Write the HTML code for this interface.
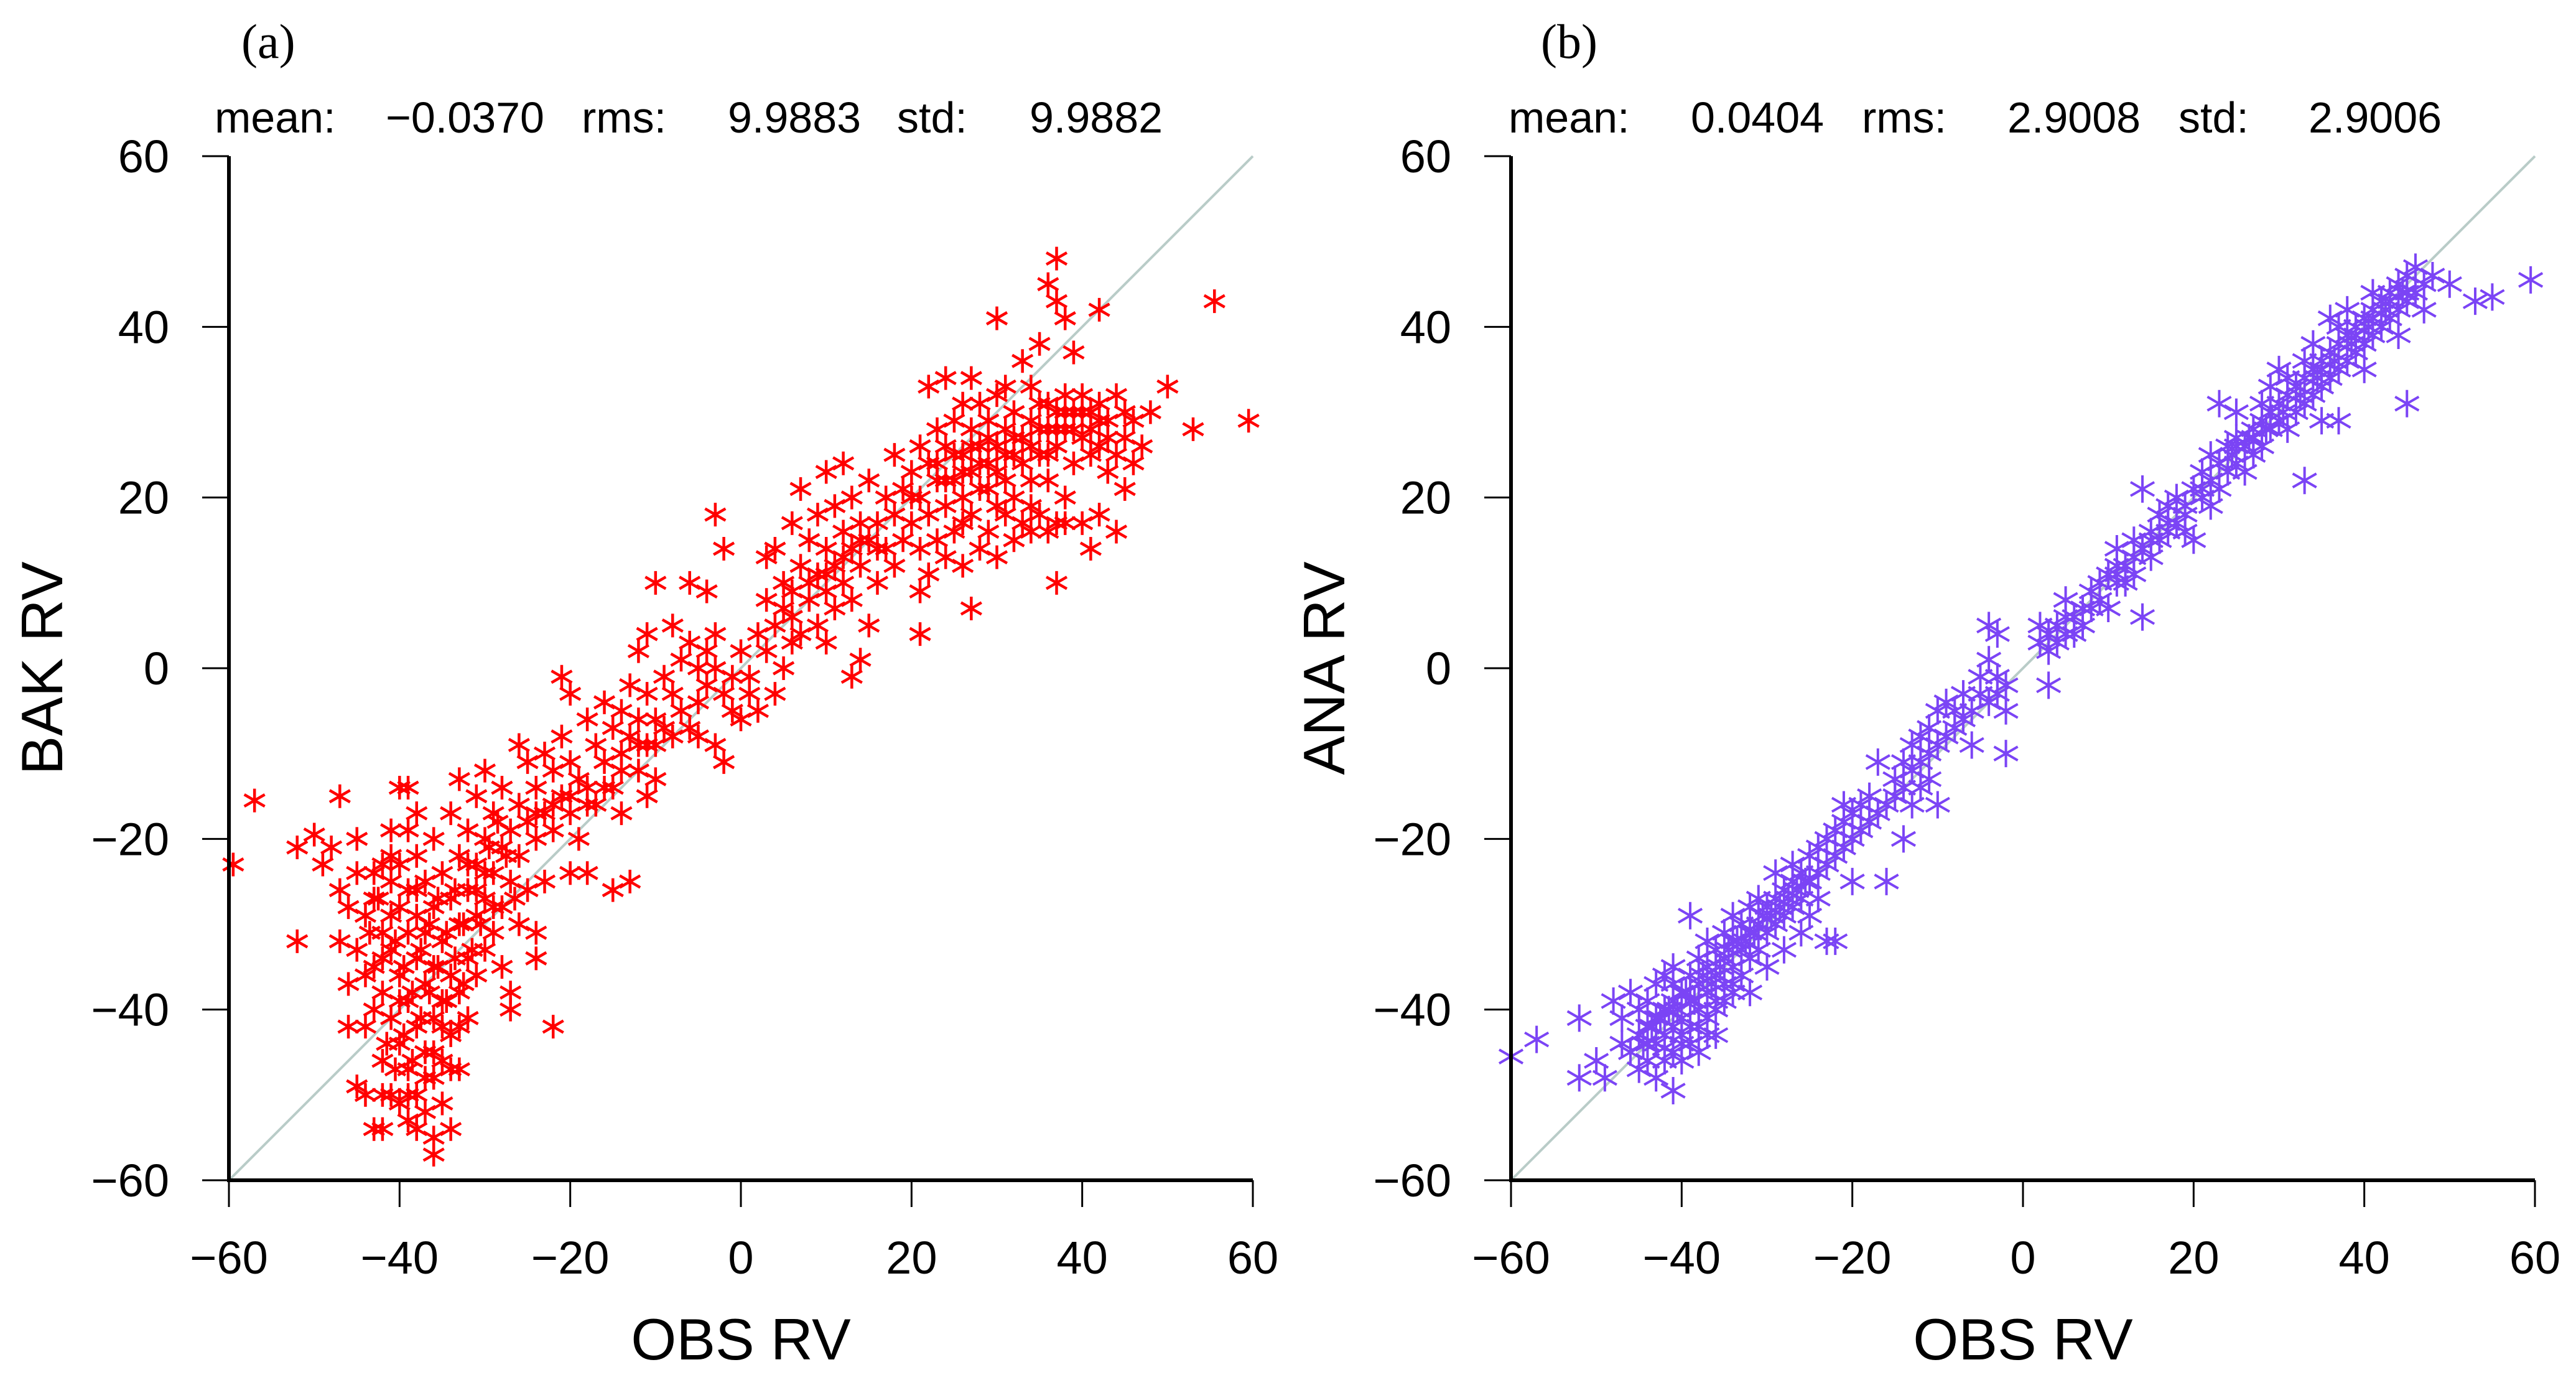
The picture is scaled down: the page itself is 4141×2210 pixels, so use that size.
<!DOCTYPE html>
<html><head><meta charset="utf-8"><style>
html,body{margin:0;padding:0;background:#fff;}
svg{display:block;}
text{font-family:"Liberation Sans",sans-serif;fill:#000;}
</style></head><body>
<svg id="fig" width="4141" height="2210" viewBox="0 0 4141 2210" xmlns="http://www.w3.org/2000/svg">
<rect width="4141" height="2210" fill="#fff"/>
<g>
<text x="388" y="93" style="font-family:'Liberation Serif',serif;font-size:78px">(a)</text>
<text x="345" y="213" font-size="70">mean:</text>
<text x="620" y="213" font-size="70">−0.0370</text>
<text x="935" y="213" font-size="70">rms:</text>
<text x="1170" y="213" font-size="70">9.9883</text>
<text x="1442" y="213" font-size="70">std:</text>
<text x="1655" y="213" font-size="70">9.9882</text>
</g>
<g>
<text x="2477" y="93" style="font-family:'Liberation Serif',serif;font-size:78px">(b)</text>
<text x="2425" y="213" font-size="70">mean:</text>
<text x="2718" y="213" font-size="70">0.0404</text>
<text x="2993" y="213" font-size="70">rms:</text>
<text x="3227" y="213" font-size="70">2.9008</text>
<text x="3502" y="213" font-size="70">std:</text>
<text x="3711" y="213" font-size="70">2.9006</text>
</g>
</svg>
<script>
const xTicks = [-60,-40,-20,0,20,40,60];
const yTicks = [-60,-40,-20,0,20,40,60];
const axisMin = -60, axisMax = 60;
const bakPoints = [[-59.5,-23],[-57,-15.5],[-52,-21],[-52,-32],[-50,-19.5],[-49,-23],[-48,-21],[-47,-15],[-47,-32],[-47,-26],[-46,-28],[-46,-37],[-46,-42],[-45,-24],[-45,-20],[-44,-29],[-44,-50],[-45,-49],[-44,-42],[-43,-54],[-43,-35],[-43,-27],[-42,-23],[-42,-31],[-42,-38],[-42,-46],[-42,-54],[-41,-25],[-41,-33],[-41,-41],[-41,-50],[-41,-19],[-40,-14],[-40,-28],[-40,-36],[-40,-44],[-40,-51],[-40,-23],[-39,-14],[-39,-31],[-39,-39],[-39,-47],[-39,-53],[-39,-26],[-38,-17],[-38,-22],[-38,-34],[-38,-42],[-38,-50],[-38,-29],[-37,-25],[-37,-37],[-37,-45],[-37,-52],[-37,-31],[-36,-55],[-36,-57],[-36,-20],[-36,-28],[-36,-35],[-36,-41],[-36,-48],[-35,-24],[-35,-32],[-35,-39],[-35,-46],[-35,-51],[-34,-17],[-34,-27],[-34,-36],[-34,-43],[-34,-54],[-33,-13],[-33,-22],[-33,-30],[-33,-38],[-33,-47],[-32,-19],[-32,-26],[-32,-34],[-32,-41],[-31,-15],[-31,-23],[-31,-29],[-31,-36],[-30,-12],[-30,-20],[-30,-27],[-30,-33],[-29,-17],[-29,-24],[-29,-31],[-28,-14],[-28,-21],[-28,-28],[-28,-35],[-27,-19],[-27,-25],[-27,-38],[-27,-40],[-26,-9],[-26,-16],[-26,-22],[-26,-30],[-25,-11],[-25,-18],[-25,-26],[-24,-14],[-24,-20],[-24,-31],[-24,-34],[-23,-10],[-23,-17],[-23,-25],[-22,-12],[-22,-19],[-22,-42],[-21,-1],[-21,-8],[-21,-15],[-20,-3],[-20,-11],[-20,-17],[-20,-24],[-19,-13],[-19,-20],[-18,-6],[-18,-14],[-18,-24],[-17,-9],[-17,-16],[-16,-4],[-16,-11],[-15,-7],[-15,-14],[-15,-26],[-14,-5],[-14,-10],[-14,-17],[-13,-2],[-13,-8],[-13,-25],[-12,-6],[-12,-12],[-12,2],[-11,-3],[-11,-9],[-11,-15],[-11,4],[-10,-6],[-10,10],[-10,-13],[-9,-1],[-9,-7],[-8,-3],[-8,5],[-7,-5],[-7,1],[-6,10],[-6,-7],[-6,3],[-5,0],[-5,-4],[-5,-8],[-4,2],[-4,-2],[-4,9],[-3,18],[-3,0],[-3,-9],[-3,4],[-2,14],[-2,-3],[-2,-11],[-1,-1],[-1,-5],[0,2],[0,-6],[1,-3],[1,-1],[2,4],[2,-5],[3,2],[3,8],[3,13],[4,-3],[4,5],[4,14],[5,0],[5,7],[5,10],[6,3],[6,9],[6,17],[7,4],[7,12],[7,21],[8,8],[8,15],[9,5],[9,11],[9,18],[10,3],[10,9],[10,14],[10,23],[11,7],[11,12],[11,19],[12,10],[12,16],[12,24],[13,-1],[13,8],[13,14],[13,20],[14,12],[14,17],[14,1],[15,5],[15,15],[15,22],[16,10],[16,17],[17,14],[17,20],[18,12],[18,18],[18,25],[19,15],[19,21],[20,17],[20,23],[21,4],[21,9],[21,14],[21,20],[21,26],[22,11],[22,18],[22,24],[22,33],[23,15],[23,22],[23,28],[24,13],[24,19],[24,26],[24,34],[25,16],[25,22],[25,29],[26,12],[26,20],[26,25],[26,31],[27,7],[27,18],[27,23],[27,28],[27,34],[28,14],[28,21],[28,26],[28,31],[29,16],[29,24],[29,29],[30,41],[30,13],[30,19],[30,26],[30,32],[31,22],[31,28],[31,33],[32,15],[32,20],[32,25],[32,30],[33,17],[33,27],[33,36],[34,16],[34,22],[34,29],[34,33],[35,18],[35,25],[35,31],[35,38],[36,16],[36,22],[36,28],[36,45],[37,48],[37,10],[37,17],[37,26],[37,30],[37,43],[38,20],[38,28],[38,32],[38,41],[39,24],[39,30],[39,37],[40,17],[40,27],[40,32],[41,14],[41,25],[41,30],[42,18],[42,26],[42,31],[42,42],[43,23],[43,29],[44,16],[44,25],[44,32],[45,21],[45,27],[45,30],[46,24],[46,29],[47,26],[48,30],[50,33],[53,28],[55.5,43],[59.5,29],
[-43.5,-31],[-43,-40],[-42.5,-27],[-42,-34],[-41.5,-44],[-41,-29],[-40.5,-32],[-40.5,-47],[-40,-39],[-39.5,-35],[-39.5,-43],[-39,-50],[-38.5,-38],[-38.5,-46],[-38,-26],[-37.5,-33],[-37.5,-41],[-37,-48],[-36.5,-30],[-36.5,-38],[-36,-45],[-35.5,-27],[-35.5,-35],[-35,-42],[-34.5,-31],[-34.5,-39],[-34,-47],[-33.5,-26],[-33.5,-34],[-33,-42],[-32.5,-30],[-32.5,-37],[-32,-23],[-31.5,-33],[-31,-26],[-30.5,-30],[-30,-24],[-29.5,-21],[-29,-28],[-28.5,-18],[-27.5,-22],[-26.5,-27],[-41,-22],[-43,-24],[-39,-19],[-44,-36],[-45,-33],[-42,-50],[-38,-54],
[23,24],[24,22],[25,25],[26,23],[27,26],[28,24],[29,27],[30,23],[31,25],[32,27],[33,24],[34,26],[35,28],[36,25],[37,28],[38,30],[39,28],[40,30],[41,28],[42,29],[43,27],[36,31],[38,17],[34,19],[31,18],[29,21],[26,17],[20,20],[16,14],[14,15],[12,13],[10,11],[8,10],[6,6],[-8,-8],[-10,-9],[-12,-9],[-14,-12],[-16,-14],[-18,-16],[-20,-15],[-22,-16],[-24,-17]];
const anaPoints = [[-60,-45.5],[-57,-43.5],[-52,-41],[-52,-48],[-50,-46],[-49,-48],[-48,-39],[-47,-44],[-47,-41],[-46,-45],[-46,-38],[-45,-47],[-45,-43],[-45,-40],[-44,-46],[-44,-42],[-44,-39],[-43,-48],[-43,-44],[-43,-41],[-43,-37],[-42,-46],[-42,-43],[-42,-40],[-42,-36],[-41,-49.5],[-41,-45],[-41,-42],[-41,-39],[-41,-35],[-40,-44],[-40,-41],[-40,-38],[-40,-46],[-39,-42],[-39,-39],[-39,-36],[-39,-29],[-38,-45],[-38,-40],[-38,-37],[-38,-34],[-37,-41],[-37,-38],[-37,-35],[-37,-32],[-36,-39],[-36,-36],[-36,-33],[-36,-43],[-35,-37],[-35,-34],[-35,-31],[-34,-38],[-34,-35],[-34,-32],[-34,-29],[-33,-36],[-33,-33],[-33,-30],[-32,-34],[-32,-31],[-32,-28],[-32,-38],[-31,-33],[-31,-30],[-31,-27],[-30,-31],[-30,-28],[-30,-35],[-29,-30],[-29,-27],[-29,-24],[-28,-29],[-28,-26],[-28,-33],[-27,-28],[-27,-25],[-27,-23],[-26,-27],[-26,-24],[-26,-31],[-25,-25],[-25,-22],[-25,-29],[-24,-24],[-24,-21],[-24,-27],[-23,-23],[-23,-20],[-23,-32],[-22,-22],[-22,-19],[-22,-32],[-21,-21],[-21,-18],[-21,-16],[-20,-20],[-20,-17],[-20,-25],[-19,-19],[-19,-16],[-18,-18],[-18,-15],[-17,-11],[-17,-17],[-16,-16],[-16,-25],[-15,-15],[-15,-13],[-14,-14],[-14,-11],[-14,-20],[-13,-12],[-13,-9],[-13,-16],[-12,-11],[-12,-8],[-12,-14],[-11,-10],[-11,-13],[-11,-7],[-10,-9],[-10,-5],[-10,-16],[-9,-8],[-9,-4],[-8,-7],[-8,-5],[-7,-6],[-7,-3],[-6,-5],[-6,-9],[-5,-3],[-5,-1],[-4,-4],[-4,5],[-4,1],[-3,-3],[-3,4],[-3,-1],[-2,-2],[-2,-10],[-2,-5],[2,3],[2,5],[3,2],[3,-2],[3,4],[4,5],[4,3],[5,4],[5,6],[5,8],[6,6],[6,4],[7,7],[7,5],[8,9],[8,7],[9,8],[9,10],[10,11],[10,7],[11,10],[11,12],[11,14],[12,12],[12,10],[13,15],[13,11],[14,14],[14,21],[14,6],[15,16],[15,13],[16,15],[16,18],[17,16],[17,19],[18,17],[18,20],[19,19],[19,16],[20,21],[20,15],[21,20],[21,23],[22,22],[22,25],[22,19],[23,24],[23,21],[23,31],[24,26],[24,23],[25,24],[25,27],[25,30],[26,26],[26,23],[27,28],[27,25],[28,29],[28,31],[28,26],[29,28],[29,33],[30,31],[30,29],[30,35],[31,32],[31,28],[32,33],[32,30],[33,34],[33,31],[33,22],[34,35],[34,32],[34,38],[35,36],[35,33],[35,29],[36,37],[36,34],[36,41],[37,38],[37,35],[37,29],[38,39],[38,36],[38,42],[39,40],[39,37],[40,41],[40,38],[40,35],[41,42],[41,39],[41,44],[42,43],[42,40],[43,44],[43,41],[44,45],[44,42],[44,39],[45,46],[45,43],[45,31],[46,44],[46,47],[47,45],[47,42],[48,46],[50,45],[53,43],[55,43.5],[59.5,45.5],
[-44.5,-44],[-43.5,-42],[-42.5,-41],[-41.5,-40],[-40.5,-40],[-39.5,-38],[-38.5,-39],[-37.5,-36],[-36.5,-37],[-35.5,-35],[-34.5,-33],[-33.5,-32],[-32.5,-32],[-31.5,-31],[-30.5,-29],[-29.5,-29],[-28.5,-28],[-27.5,-27],[-26.5,-26],[-25.5,-25],[-42,-44.5],[-40,-43],[-38,-42],[-36,-40],[-34,-37],[-44,-44],[-41,-37],[-39,-44],[-37,-43],[-35,-39],
[24.5,25],[26.5,27],[28.5,28],[30.5,30],[32.5,32],[34.5,34],[36.5,36],[38.5,38],[40.5,40],[42.5,42],[44.5,44],[31,34],[33,36],[35,35],[37,40],[39,39],[41,41],[43,43],[45,44],[29,30],[27,27],[25,26],[21,21],[19,18],[17,17],[15,15],[13,13],[11,11]];

const NS = "http://www.w3.org/2000/svg";
const svg = document.getElementById('fig');
function mk(tag, attrs, parent){
  const e = document.createElementNS(NS, tag);
  for (const k in attrs) e.setAttribute(k, attrs[k]);
  parent.appendChild(e);
  return e;
}
function fmt(v){ return v < 0 ? '−' + Math.abs(v) : String(v); }

function drawPanel(key, left, points, color, yTitle, msize, mstroke){
  const top = 251, size = 1646, bottom = top + size, right = left + size;
  const sx = v => left + (v - axisMin) / (axisMax - axisMin) * size;
  const sy = v => bottom - (v - axisMin) / (axisMax - axisMin) * size;
  const g = mk('g', {}, svg);
  
  

  const diag = mk('line', {x1:sx(axisMin), y1:sy(axisMin), x2:sx(axisMax), y2:sy(axisMax), stroke:'#b9ccc8', 'stroke-width':4}, g);
  
  

  const pts = mk('g', {stroke:color, 'stroke-width':mstroke, fill:'none', 'stroke-linecap':'butt'}, g);
  
  
  const dx = msize * Math.cos(Math.PI/6), dy = msize * Math.sin(Math.PI/6);
  points.forEach(p => {
    const cx = sx(p[0]), cy = sy(p[1]);
    const d = 'M' + cx + ' ' + (cy - msize) + 'V' + (cy + msize) +
      'M' + (cx - dx) + ' ' + (cy - dy) + 'L' + (cx + dx) + ' ' + (cy + dy) +
      'M' + (cx - dx) + ' ' + (cy + dy) + 'L' + (cx + dx) + ' ' + (cy - dy);
    const m = mk('path', {d:d}, pts);
    
    
  });

  const yAxis = mk('line', {x1:left, y1:top, x2:left, y2:bottom + 3, stroke:'#000', 'stroke-width':6}, g);
  
  
  const xAxis = mk('line', {x1:left - 3, y1:bottom, x2:right, y2:bottom, stroke:'#000', 'stroke-width':6}, g);
  
  

  xTicks.forEach(v => {
    const x = sx(v);
    const t = mk('line', {x1:x, y1:bottom, x2:x, y2:bottom + 43, stroke:'#000', 'stroke-width':3}, g);
    
    
    const l = mk('text', {x:x, y:2047, 'text-anchor':'middle', 'font-size':74}, g);
    l.textContent = fmt(v);
    
    
  });
  yTicks.forEach(v => {
    const y = sy(v);
    const t = mk('line', {x1:left - 43, y1:y, x2:left, y2:y, stroke:'#000', 'stroke-width':3}, g);
    
    
    const l = mk('text', {x:left - 96, y:y + 26, 'text-anchor':'end', 'font-size':74}, g);
    l.textContent = fmt(v);
    
    
  });

  const xt = mk('text', {x:(left + right) / 2, y:2185, 'text-anchor':'middle', 'font-size':94}, g);
  xt.textContent = 'OBS RV';
  
  
  const cy = (top + bottom) / 2, tx = left - 268;
  const yt = mk('text', {x:tx, y:cy, 'text-anchor':'middle', 'font-size':94, transform:'rotate(-90 ' + tx + ' ' + cy + ')'}, g);
  yt.textContent = yTitle;
  
  
}

drawPanel('panel-a', 368, bakPoints, '#ff0000', 'BAK RV', 19, 4.5);
drawPanel('panel-b', 2429, anaPoints, '#7b44f5', 'ANA RV', 22, 4);
</script>
</body></html>
